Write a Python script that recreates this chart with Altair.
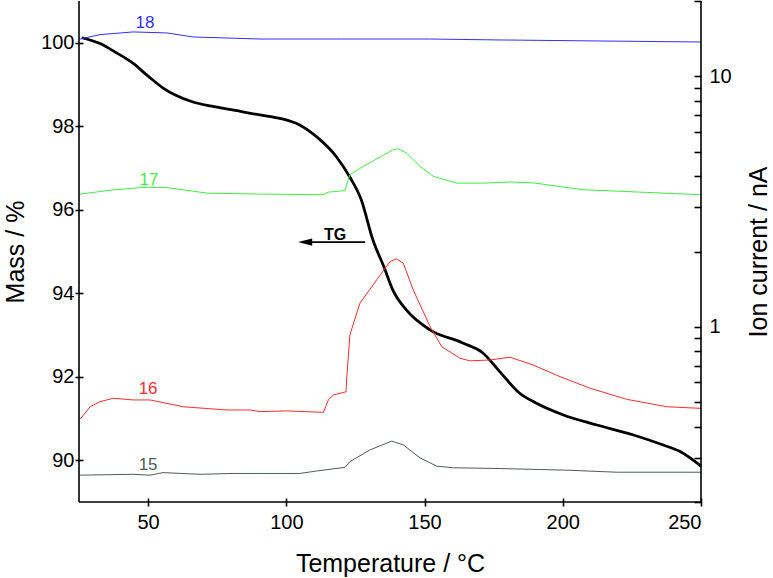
import altair as alt
import pandas as pd

# Thermogravimetric mass curve (TG)
tg_temp = [26.0, 32.6, 38.0, 44.5, 50.0, 55.3, 60.0, 66.2, 73.0, 80.6, 90.4, 97.6,
           104.8, 110.9, 118.1, 122.9, 127.1, 131.3, 135.5, 138.5, 143.4, 151.8,
           163.8, 171.1, 177.1, 184.3, 190.3, 200.0, 212.0, 225.3, 236.1,
           242.1, 250.0]
tg_mass = [100.12, 99.98, 99.78, 99.51, 99.20, 98.92, 98.74, 98.58, 98.48, 98.39,
           98.27, 98.19, 98.03, 97.75, 97.27, 96.79, 96.24, 95.28, 94.60, 94.08,
           93.60, 93.13, 92.81, 92.57, 92.13, 91.61, 91.37, 91.09, 90.85,
           90.61, 90.37, 90.22, 89.86]

# Ion currents (nA) for m/z 18, 17, 16, 15
t18 = [25.4, 32.6, 44.5, 56.8, 66.2, 90.5, 120.0, 151.8, 177.3, 213.5, 250.0]
i18 = [14.1, 14.68, 15.05, 14.91, 14.37, 14.1, 14.1, 14.1, 13.98, 13.85, 13.72]

t17 = [25.4, 37.0, 48.9, 56.8, 71.3, 90.5, 113.4, 115.1, 121.2, 123.0, 127.8,
       138.7, 140.5, 143.5, 148.4, 153.2, 161.6, 171.3, 180.9, 189.2, 207.3, 250.0]
i17 = [3.39, 3.52, 3.61, 3.60, 3.42, 3.39, 3.37, 3.45, 3.50, 4.05, 4.37,
       5.10, 5.14, 4.94, 4.37, 3.99, 3.75, 3.75, 3.79, 3.76, 3.53, 3.37]

t16 = [25.4, 29.0, 32.6, 37.4, 44.6, 50.7, 62.7, 78.4, 86.9, 90.5, 100.0, 113.4,
       115.2, 117.0, 121.6, 121.8, 123.0, 126.6, 132.7, 137.5, 139.9, 142.3,
       145.9, 152.0, 156.2, 162.8, 166.4, 173.7, 180.9, 189.2, 199.0, 209.9,
       223.1, 237.6, 250.0]
i16 = [0.428, 0.480, 0.503, 0.519, 0.511, 0.511, 0.480, 0.466, 0.466, 0.459,
       0.462, 0.456, 0.511, 0.535, 0.551, 0.614, 0.929, 1.243, 1.541, 1.823,
       1.869, 1.797, 1.405, 1.003, 0.834, 0.750, 0.732, 0.738, 0.757, 0.705,
       0.633, 0.569, 0.514, 0.480, 0.473]

t15 = [25.4, 44.5, 50.7, 55.4, 68.8, 80.7, 90.5, 104.9, 111.0, 121.2, 123.0,
       130.3, 138.1, 142.3, 148.4, 154.4, 160.4, 177.3, 201.4, 219.5, 250.0]
i15 = [0.256, 0.258, 0.256, 0.262, 0.258, 0.260, 0.260, 0.260, 0.266, 0.275,
       0.290, 0.323, 0.350, 0.338, 0.300, 0.278, 0.274, 0.272, 0.268, 0.263, 0.263]

series_names = ["18", "17", "16", "15"]
line_colors = ["#2f2fff", "#3cf03c", "#ff2a2a", "#4d5c5c"]
label_colors = ["#2020f0", "#2ed82e", "#ee1c1c", "#3d4e4e"]

W, H = 622, 501
FONT = "Liberation Sans"

tg_df = pd.DataFrame({"T": tg_temp, "mass": tg_mass})
ion_df = pd.concat([
    pd.DataFrame({"T": t, "ion": i, "series": s, "order": range(len(t))})
    for t, i, s in zip([t18, t17, t16, t15], [i18, i17, i16, i15], series_names)
])

x_scale = alt.Scale(domain=[25, 250], nice=False, zero=False)
mass_scale = alt.Scale(domain=[89, 101], nice=False, zero=False)
ion_scale = alt.Scale(type="log", domain=[0.2, 20], nice=False)

x_axis = alt.Axis(
    title="Temperature / °C", values=[50, 100, 150, 200, 250],
    offset=-4, tickSize=8, domain=False, grid=False,
    labelFontSize=20, titleFontSize=25, labelPadding=6, titlePadding=19,
)
mass_axis = alt.Axis(
    title="Mass / %", values=[90, 92, 94, 96, 98, 100], orient="left",
    offset=-4, tickSize=8, domain=False, grid=False,
    labelFontSize=20, titleFontSize=25, labelPadding=1, titlePadding=12,
)
ion_ticks = [0.2, 0.3, 0.4, 0.5, 0.6, 0.7, 0.8, 0.9, 1, 2, 3, 4, 5, 6, 7, 8, 9, 10, 20]
ion_axis = alt.Axis(
    title="Ion current / nA", values=ion_ticks, orient="right",
    offset=-7, tickSize=7, domain=False, grid=False,
    labelExpr="datum.value == 1 || datum.value == 10 ? datum.label : ''",
    labelFontSize=20, titleFontSize=25, labelPadding=8, titlePadding=15,
    titleAngle=270, titleBaseline="top",
)

# Left-axis group: mass curve with its arrow label
tg_line = alt.Chart(tg_df).mark_line(
    color="black", strokeWidth=2.8, interpolate="monotone"
).encode(
    x=alt.X("T:Q", scale=x_scale, axis=x_axis),
    y=alt.Y("mass:Q", scale=mass_scale, axis=mass_axis),
)

tg_note = pd.DataFrame({"T": [117.6], "mass": [95.28], "txt": ["TG"]})
tg_text = alt.Chart(tg_note).mark_text(
    font=FONT, fontSize=16, fontWeight="bold", baseline="alphabetic", align="center"
).encode(
    x=alt.X("T:Q", scale=x_scale),
    y=alt.Y("mass:Q", scale=mass_scale),
    text="txt:N",
)
arrow_df = pd.DataFrame({"T": [108.5], "T2": [128.5], "mass": [95.225]})
arrow_shaft = alt.Chart(arrow_df).mark_rule(color="black", strokeWidth=1.8).encode(
    x=alt.X("T:Q", scale=x_scale),
    x2="T2:Q",
    y=alt.Y("mass:Q", scale=mass_scale),
)
head_df = pd.DataFrame({"T": [106.8], "mass": [95.225]})
arrow_head = alt.Chart(head_df).mark_point(
    shape="M-1,0L1,-0.5L1,0.5Z", filled=True, color="black", opacity=1, size=200
).encode(
    x=alt.X("T:Q", scale=x_scale),
    y=alt.Y("mass:Q", scale=mass_scale),
)

left_group = alt.layer(tg_line, arrow_shaft, arrow_head, tg_text)

# Right-axis group: ion currents on a log scale
color_scale = alt.Scale(domain=series_names, range=line_colors)
ion_lines = alt.Chart(ion_df).mark_line(strokeWidth=1).encode(
    x=alt.X("T:Q", scale=x_scale),
    y=alt.Y("ion:Q", scale=ion_scale, axis=ion_axis),
    color=alt.Color("series:N", scale=color_scale, legend=None),
    order="order:Q",
)

lab_df = pd.DataFrame({
    "T": [48.9, 50.3, 50.0, 50.0],
    "ion": [15.65, 3.69, 0.538, 0.268],
    "series": series_names,
})
ion_labels = alt.Chart(lab_df).mark_text(
    font=FONT, fontSize=17, baseline="alphabetic", align="center"
).encode(
    x=alt.X("T:Q", scale=x_scale),
    y=alt.Y("ion:Q", scale=ion_scale),
    text="series:N",
    color=alt.Color("series:N", scale=alt.Scale(domain=series_names, range=label_colors),
                    legend=None),
)

right_group = alt.layer(ion_lines, ion_labels)

# Frame lines (left, bottom, right)
one = pd.DataFrame({"k": [0]})
frame_left = alt.Chart(one).mark_rule(color="black", strokeWidth=1.6).encode(
    x=alt.value(0), y=alt.value(0), y2=alt.value(H))
frame_right = alt.Chart(one).mark_rule(color="black", strokeWidth=1.6).encode(
    x=alt.value(W), y=alt.value(0), y2=alt.value(H))
frame_bottom = alt.Chart(one).mark_rule(color="black", strokeWidth=1.6).encode(
    x=alt.value(0), x2=alt.value(W), y=alt.value(H))

chart = alt.layer(
    left_group, right_group, frame_left, frame_right, frame_bottom
).resolve_scale(
    y="independent", color="independent"
).properties(
    width=W, height=H,
    autosize=alt.AutoSizeParams(type="none"),
    padding={"left": 79, "top": 1, "right": 72, "bottom": 76},
).configure_axis(
    labelFont=FONT, titleFont=FONT, labelColor="black", titleColor="black",
    tickColor="black", tickWidth=1.6, titleFontWeight="normal",
).configure_view(stroke=None)

chart.save("out.html", embed_options={"renderer": "svg", "actions": False})
